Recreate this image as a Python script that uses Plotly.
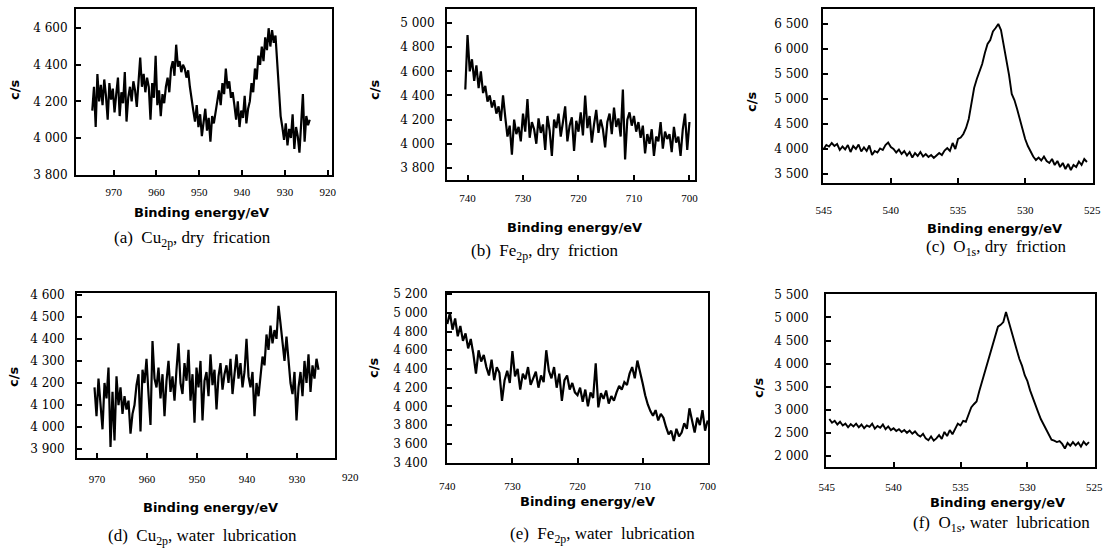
import numpy as np
import plotly.graph_objects as go

# ---------------- data ----------------
# (a) Cu2p, dry friction : binding energy grid start / step (eV), counts (c/s)
cu_dry_start, cu_dry_step = 975.0, 0.4
cu_dry_counts = [
    4150, 4280, 4060, 4350, 4200, 4290, 4180, 4320, 4230, 4100, 4300, 4210, 4270,
    4140, 4240, 4330, 4120, 4250, 4190, 4360, 4090, 4220, 4280,
    4200, 4310, 4260, 4170, 4300, 4440, 4280, 4350, 4250, 4330,
    4280, 4100, 4300, 4220, 4450, 4180, 4260, 4120, 4240, 4190,
    4280, 4330, 4250, 4380, 4420, 4340, 4510, 4390, 4420, 4360, 4400,
    4380, 4330, 4370, 4280, 4200, 4150,
    4090, 4180, 4060, 4130, 4010, 4100, 4160, 4040, 4110, 3980, 4120, 4080, 4150,
    4200, 4260, 4180, 4300, 4240, 4380, 4270, 4310, 4220, 4250,
    4180, 4100, 4200, 4060, 4150, 4110, 4230, 4080, 4160,
    4200, 4300, 4250, 4380, 4320,
    4450, 4400, 4500, 4420, 4550, 4480, 4600, 4500, 4590, 4520, 4560,
    4420, 4250, 4120, 4060,
    3990, 4080, 3960, 4050, 4000, 4130, 3940, 4060, 4010, 3920, 4090, 4240, 3980, 4120, 4070, 4100,
]

# (b) Fe2p, dry friction
fe_dry_start, fe_dry_step = 740.4, 0.4
fe_dry_counts = [
    4450, 4900, 4600, 4700,
    4520, 4650, 4460, 4600, 4420,
    4480, 4350, 4400, 4300, 4360,
    4250, 4310, 4190, 4400, 4220,
    4060, 4150, 3910, 4200, 4080, 4140, 4020, 4250, 4100, 4370, 4050, 4180, 4120, 4000, 4210, 4090, 4160, 3950, 4230, 4110,
    3900, 4200, 4130, 4250, 4060, 4180, 4310, 4020, 4150, 4220, 3940, 4190, 4100, 4260, 4070, 4400, 4130, 4230, 4010, 4160, 4280, 4090, 4200, 4120, 3970,
    4180, 4250, 4080, 4300, 4140, 4210, 4060, 4450, 3870, 4200, 4260, 4150, 4230, 4100, 4180,
    4050, 4150, 3920, 4080, 4000, 4120, 3900, 4060, 4020, 4180, 3960, 4100, 4040, 4080, 3930, 4140, 4010, 4060, 3900, 4120, 4250, 3950, 4180,
]

# (c) O1s, dry friction
o_dry_start, o_dry_step = 545.0, 0.2
o_dry_counts = [
    4000, 4080, 4050, 4120, 4060, 4100, 3980, 4050, 3990, 4080,
    3940, 4060, 4000, 4090, 3950, 4030, 3960, 4070, 3880, 3960,
    3930, 4010, 3980, 4080, 4130, 4040, 4000, 3930, 3990, 3900,
    3960, 3870, 3940, 3830, 3920, 3860, 3940, 3850, 3900, 3840,
    3880, 3820, 3870, 3920, 3880, 3970, 4020, 3960, 4120, 4000,
    4200, 4230, 4300, 4420, 4600, 4900, 5220, 5400, 5560, 5700,
    5920, 6100, 6180, 6350, 6420, 6500, 6380, 6100, 5800, 5480,
    5100, 4980, 4800, 4600, 4380, 4200, 4060, 3940, 3850, 3780,
    3830, 3770, 3850, 3760, 3720, 3800, 3680, 3760, 3640, 3720,
    3600, 3700, 3580, 3680, 3640, 3750, 3680, 3800, 3740,
]

# (d) Cu2p, water lubrication
cu_wet_start, cu_wet_step = 970.5, 0.4
cu_wet_counts = [
    4180, 4050, 4220, 4110, 3990, 4200, 4130, 4270, 3910, 4160, 3940, 4230, 4100, 4180, 4060, 4140,
    4080, 4120, 3970, 4060, 4100,
    4190, 4240, 3980, 4260, 4200, 4310, 4150, 4010, 4390, 4220, 4180, 4270, 4130, 4240, 4050, 4210, 4300, 4160, 4230, 4120,
    4260, 4380, 4200, 4150, 4290, 4210, 4350, 4120, 4240, 4020, 4270, 4180, 4300, 4030, 4210, 4250, 4140, 4330, 4190, 4260, 4080, 4230, 4290, 4170, 4240,
    4280, 4200, 4310, 4150, 4260, 4330, 4220, 4290, 4180, 4250, 4400, 4230,
    4180, 4250, 4050, 4200, 4140, 4230,
    4320, 4280, 4420, 4350, 4460, 4380, 4440,
    4400, 4550, 4470,
    4380, 4300, 4410, 4320,
    4200, 4150, 4250, 4030, 4180,
    4250, 4140, 4300, 4200, 4330, 4160, 4280, 4220, 4310, 4260,
]

# (e) Fe2p, water lubrication
fe_wet_start, fe_wet_step = 740.0, 0.4
fe_wet_counts = [
    4880, 5000, 4820, 4940, 4750,
    4860, 4700, 4780, 4620, 4720, 4560, 4350, 4600,
    4480, 4550, 4420, 4330, 4500, 4280, 4420, 4360, 4060,
    4280, 4380, 4250, 4590, 4320, 4400, 4180, 4350, 4290, 4420, 4230, 4310, 4370, 4200, 4330, 4260,
    4600, 4380, 4300, 4420, 4200, 4350, 4060, 4280, 4330, 4180, 4250, 4150,
    4120, 4200, 4050, 4180, 4000, 4150, 4090, 4460, 3990, 4140, 4080, 4170, 4030, 4110, 4060,
    4150, 4220, 4180, 4260, 4230,
    4350, 4420, 4300, 4490, 4380,
    4250, 4120, 4020, 3950,
    3900, 3960, 3850, 3920, 3880,
    3780, 3700, 3740, 3630, 3760, 3680, 3720,
    3820, 3760, 3980, 3850, 3720, 3880, 3800, 3960, 3740, 3850,
]

# (f) O1s, water lubrication
o_wet_start, o_wet_step = 544.8, 0.2
o_wet_counts = [
    2800, 2720, 2760, 2680, 2740, 2660, 2700, 2620, 2690, 2640,
    2700, 2620, 2680, 2600, 2660, 2630, 2700, 2590, 2650, 2610,
    2680, 2580, 2640, 2560, 2600, 2540, 2580, 2520, 2560, 2500,
    2550, 2480, 2530, 2460, 2420, 2480, 2380, 2340, 2420, 2330,
    2380, 2450, 2370, 2520, 2430, 2560, 2470, 2600, 2700, 2660,
    2760, 2740, 2880, 3050, 3120, 3180, 3400, 3600, 3800, 4020,
    4240, 4450, 4620, 4800, 4840, 4900, 5120, 4900, 4700, 4500,
    4300, 4100, 3950, 3750, 3620, 3420, 3250, 3100, 2950, 2800,
    2680, 2560, 2440, 2350, 2330, 2300, 2320, 2260, 2160, 2280,
    2220, 2300, 2230, 2290, 2200, 2310, 2240, 2300,
]

# tick values / labels
cu_dry_xticks = [970, 960, 950, 940, 930, 920]
cu_dry_yticks = [3800, 4000, 4200, 4400, 4600]
cu_dry_ylabels = ["3 800", "4 000", "4 200", "4 400", "4 600"]
fe_dry_xticks = [740, 730, 720, 710, 700]
fe_dry_yticks = [3800, 4000, 4200, 4400, 4600, 4800, 5000]
fe_dry_ylabels = ["3 800", "4 000", "4 200", "4 400", "4 600", "4 800", "5 000"]
o_xticks = [545, 540, 535, 530, 525]
o_dry_yticks = [3500, 4000, 4500, 5000, 5500, 6000, 6500]
o_dry_ylabels = ["3 500", "4 000", "4 500", "5 000", "5 500", "6 000", "6 500"]
cu_wet_xticks = [970, 960, 950, 940, 930]
cu_wet_extra_xlabel = "920"
cu_wet_yticks = [3900, 4000, 4100, 4200, 4300, 4400, 4500, 4600]
cu_wet_ylabels = ["3 900", "4 000", "4 100", "4 200", "4 300", "4 400", "4 500", "4 600"]
fe_wet_xticks = [740, 730, 720, 710, 700]
fe_wet_yticks = [3400, 3600, 3800, 4000, 4200, 4400, 4600, 4800, 5000, 5200]
fe_wet_ylabels = ["3 400", "3 600", "3 800", "4 000", "4 200", "4 400", "4 600", "4 800", "5 000", "5 200"]
o_wet_yticks = [2000, 2500, 3000, 3500, 4000, 4500, 5000, 5500]
o_wet_ylabels = ["2 000", "2 500", "3 000", "3 500", "4 000", "4 500", "5 000", "5 500"]

x_title = "Binding energy/eV"
y_title = "c/s"
captions = [
    "(a)  Cu<sub>2p</sub>, dry  frication",
    "(b)  Fe<sub>2p</sub>, dry  friction",
    "(c)  O<sub>1s</sub>, dry  friction",
    "(d)  Cu<sub>2p</sub>, water  lubrication",
    "(e)  Fe<sub>2p</sub>, water  lubrication",
    "(f)  O<sub>1s</sub>, water  lubrication",
]

# ---------------- figure ----------------
W, H = 1108, 549


def px(x):
    return x / W


def py(y):
    return 1 - y / H


def grid(start, step, vals):
    return start - step * np.arange(len(vals))


series = [
    (cu_dry_start, cu_dry_step, cu_dry_counts),
    (fe_dry_start, fe_dry_step, fe_dry_counts),
    (o_dry_start, o_dry_step, o_dry_counts),
    (cu_wet_start, cu_wet_step, cu_wet_counts),
    (fe_wet_start, fe_wet_step, fe_wet_counts),
    (o_wet_start, o_wet_step, o_wet_counts),
]

panels = [
    dict(box=(76, 9, 332, 175), xr=[978.8, 919], yr=[3798, 4705],
         xt=cu_dry_xticks, yt=cu_dry_yticks, yl=cu_dry_ylabels, xs=6, ys=4, lw=2.2),
    dict(box=(447, 9, 695, 180), xr=[743.7, 699], yr=[3700, 5116],
         xt=fe_dry_xticks, yt=fe_dry_yticks, yl=fe_dry_ylabels, xs=7, ys=8, lw=2.2),
    dict(box=(823, 9, 1093, 183), xr=[545.05, 524.95], yr=[3320, 6800],
         xt=o_xticks, yt=o_dry_yticks, yl=o_dry_ylabels, xs=16, ys=10, lw=1.9),
    dict(box=(77, 293, 335, 458), xr=[974, 922.4], yr=[3860, 4608],
         xt=cu_wet_xticks, yt=cu_wet_yticks, yl=cu_wet_ylabels, xs=10, ys=8, lw=2.2),
    dict(box=(447, 293, 708, 463), xr=[740.05, 699.95], yr=[3395, 5212],
         xt=fe_wet_xticks, yt=fe_wet_yticks, yl=fe_wet_ylabels, xs=12, ys=15, lw=2.2),
    dict(box=(826, 294, 1095, 467), xr=[545.05, 524.95], yr=[1760, 5508],
         xt=o_xticks, yt=o_wet_yticks, yl=o_wet_ylabels, xs=9, ys=13, lw=1.9),
]

fig = go.Figure()
layout = dict(
    width=W, height=H, margin=dict(l=0, r=0, t=0, b=0, autoexpand=False),
    paper_bgcolor="white", plot_bgcolor="white", showlegend=False,
)

for i, (p, (st, sp, vals)) in enumerate(zip(panels, series), start=1):
    x0, y0, x1, y1 = p["box"]
    fig.add_trace(go.Scatter(
        x=grid(st, sp, vals), y=vals, mode="lines",
        line=dict(color="black", width=p["lw"]),
        xaxis=f"x{i}", yaxis=f"y{i}", hoverinfo="skip",
    ))
    common = dict(showline=True, linecolor="black", linewidth=2, mirror=True,
                  ticks="inside", ticklen=5, tickwidth=1.5, tickcolor="black",
                  showgrid=False, zeroline=False, automargin=False)
    layout[f"xaxis{i}"] = dict(
        domain=[px(x0), px(x1)], range=p["xr"], anchor=f"y{i}",
        tickmode="array", tickvals=p["xt"], ticktext=[str(v) for v in p["xt"]],
        tickfont=dict(family="Liberation Serif", size=11, color="black"),
        ticklabelstandoff=p["xs"], **common)
    layout[f"yaxis{i}"] = dict(
        domain=[py(y1), py(y0)], range=p["yr"], anchor=f"x{i}",
        tickmode="array", tickvals=p["yt"], ticktext=p["yl"],
        tickfont=dict(family="DejaVu Serif", size=12, color="black"),
        ticklabelstandoff=p["ys"], **common)

fig.update_layout(**layout)

xtitle_pos = [(201, 212), (574, 227), (994, 228), (211, 507), (587, 501), (997, 502)]
ytitle_pos = [(15, 90), (375, 90), (752, 102), (13, 377), (373, 368), (758, 388)]
caption_pos = [(192, 239), (544, 252), (996, 248), (202, 537), (602, 535), (1001, 524)]

for (xa, ya), (xb, yb), (xc, yc), cap in zip(xtitle_pos, ytitle_pos, caption_pos, captions):
    fig.add_annotation(x=px(xa), y=py(ya), xref="paper", yref="paper", text=x_title,
                       showarrow=False, xanchor="center", yanchor="middle",
                       font=dict(family="DejaVu Sans", size=13, color="black", weight="bold"))
    fig.add_annotation(x=px(xb), y=py(yb), xref="paper", yref="paper", text=y_title,
                       showarrow=False, xanchor="center", yanchor="middle", textangle=-90,
                       font=dict(family="DejaVu Sans", size=13, color="black", weight="bold"))
    fig.add_annotation(x=px(xc), y=py(yc), xref="paper", yref="paper", text=cap,
                       showarrow=False, xanchor="center", yanchor="middle",
                       font=dict(family="Liberation Serif", size=17, color="black"))

# the "920" label that sits past the right edge of panel (d)
fig.add_annotation(x=px(350), y=py(477), xref="paper", yref="paper", text=cu_wet_extra_xlabel,
                   showarrow=False, xanchor="center", yanchor="middle",
                   font=dict(family="Liberation Serif", size=11, color="black"))

fig.write_html(
    "out.html",
    config={"displayModeBar": False},
    post_script="document.body.style.margin='0';document.body.style.overflow='hidden';",
)
